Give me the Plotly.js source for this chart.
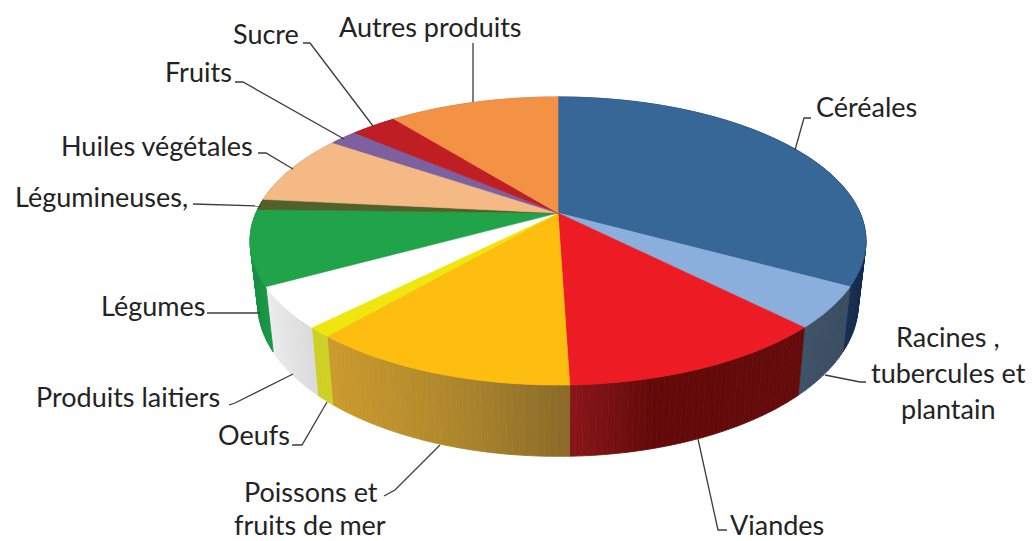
<!DOCTYPE html>
<html>
<head>
<meta charset="utf-8">
<script src="https://cdn.plot.ly/plotly-3.0.1.min.js"></script>
<style>html,body{margin:0;padding:0;background:#fff}#chart{width:1033px;height:541px}</style>
</head>
<body>
<div id="chart"></div>
<script>
// ---- data ----
const categories = ["Céréales","Racines , tubercules et plantain","Viandes","Poissons et fruits de mer","Oeufs","Produits laitiers","Légumes","Légumineuses,","Huiles végétales","Fruits","Sucre","Autres produits"];
const shares = [33.0,4.6,11.9,11.8,1.1,4.6,8.4,1.2,7.9,1.8,2.95,10.75];

// ---- styles ----
const topColors = ["#366797","#8AAFDC","#ED1C24","#FDBE10","#EFE60F","#FFFFFF","#21A34A","#4F622A","#F4B984","#7D60A0","#BE1E24","#F39244"];
const rimScales = [
  [[0,"#1B3A66"],[0.8,"#172F52"],[1,"#152B4E"]],
  [[0,"#3F5369"],[1,"#384B60"]],
  [[0,"#8A1719"],[0.35,"#640909"],[1,"#650A0A"]],
  [[0,"#CC9B2C"],[0.5,"#B0882C"],[1,"#8A6A2A"]],
  [[0,"#CDD024"],[1,"#CFD126"]],
  [[0,"#EDEDED"],[1,"#D9D9D9"]],
  [[0,"#169243"],[1,"#199545"]],
  [[0,"#3F4F22"],[1,"#3F4F22"]],
  [[0,"#C49468"],[1,"#C49468"]],
  [[0,"#644C80"],[1,"#644C80"]],
  [[0,"#98181D"],[1,"#98181D"]],
  [[0,"#C27536"],[1,"#C27536"]]
];
function shade(scale,f){
  const hex = c=>[1,3,5].map(k=>parseInt(c.substr(k,2),16));
  let i = 0;
  while(i<scale.length-2 && f>scale[i+1][0]) i++;
  const a = scale[i], b = scale[i+1], t = Math.min(1,Math.max(0,(f-a[0])/(b[0]-a[0])));
  const ca = hex(a[1]), cb = hex(b[1]);
  return "rgb("+ca.map((v,k)=>Math.round(v+(cb[k]-v)*t)).join(",")+")";
}

// ---- geometry of the tilted disc (perspective view) ----
const view = {cx:558, cy:213, radius:302.1, height:138.6, persp:0.1944,
              baseScale:0.975, baseY:274, baseStretch:1.06};
function topPoint(deg){
  const t = deg*Math.PI/180, u = Math.sin(t), v = -Math.cos(t), w = 1 - view.persp*v;
  return [view.cx + view.radius*u/w, view.cy + view.height*v/w];
}
function basePoint(deg){
  const p = topPoint(deg);
  return [view.cx + view.baseScale*(p[0]-view.cx), view.baseY + view.baseStretch*(p[1]-view.cy)];
}
function arc(fn,a0,a1){
  const n = Math.max(2,Math.ceil((a1-a0)/1.0)), out=[];
  for(let i=0;i<=n;i++) out.push(fn(a0+(a1-a0)*i/n));
  return out;
}

const total = shares.reduce((a,b)=>a+b,0);
let cum = 0;
const rimTraces = [], topTraces = [];
categories.forEach((name,i)=>{
  const a0 = cum/total*360; cum += shares[i]; const a1 = cum/total*360;
  const tArc = arc(topPoint,a0,a1), bArc = arc(basePoint,a0,a1);
  const lo = Math.min(...tArc.map(p=>p[0]),...bArc.map(p=>p[0]));
  const hi = Math.max(...tArc.map(p=>p[0]),...bArc.map(p=>p[0]));
  // the rim is drawn as narrow strips, so that it stays filled where it folds at the silhouette
  for(let s=0;s<tArc.length-1;s++){
    const strip = [tArc[s],tArc[s+1],bArc[s+1],bArc[s],tArc[s]];
    const col = shade(rimScales[i],((tArc[s][0]+bArc[s+1][0])/2-lo)/(hi-lo));
    rimTraces.push({type:"scatter",mode:"lines",x:strip.map(p=>p[0]),y:strip.map(p=>p[1]),
      fill:"toself",fillcolor:col,
      line:{width:0.8,color:col,simplify:false},hoverinfo:"skip",showlegend:false});
  }
  const face = [[view.cx,view.cy]].concat(tArc); face.push([view.cx,view.cy]);
  topTraces.push({type:"scatter",mode:"lines",name:name,x:face.map(p=>p[0]),y:face.map(p=>p[1]),
    fill:"toself",fillcolor:topColors[i],line:{width:0.6,color:topColors[i],simplify:false},
    text:name+": "+shares[i]+" %",hoverinfo:"text",showlegend:false});
});

// ---- label texts and leader lines (layout) ----
const labelFont = {family:"Lato, Carlito, Calibri, sans-serif",size:27,color:"#232323"};
const labelLines = [
  ["Céréales",866,106],
  ["Racines ,",948,336],["tubercules et",948,372],["plantain",948,408],
  ["Viandes",777,524],
  ["Poissons et",311,491],["fruits de mer",310,524],
  ["Oeufs",254,434],
  ["Produits laitiers",128,396],
  ["Légumes",153,305],
  ["Légumineuses,",101,196],
  ["Huiles végétales",157,145],
  ["Fruits",198,71],
  ["Sucre",266,33],
  ["Autres produits",430,26]
];
const leaders = [
  [[795,150],[804,118],[811,118]],
  [[825,375],[860,382],[866,382]],
  [[698,439],[718,530],[727,530]],
  [[440,445],[395,490],[384,496]],
  [[327,402],[302,445],[292,445]],
  [[293,374],[235,403],[229,405]],
  [[207,313],[260,313]],
  [[193,204],[261,206]],
  [[258,153],[266,153],[293,169]],
  [[235,82],[243,82],[344,139]],
  [[303,43],[310,43],[373,126]],
  [[473,43],[473,102]]
];
const shapes = leaders.map(pts=>({type:"path",xref:"x",yref:"y",
  path:pts.map((p,i)=>(i?"L":"M")+p[0]+" "+p[1]).join(" "),
  line:{color:"#3C3C3C",width:1.3}}));
const annotations = labelLines.map(l=>({text:l[0],x:l[1],y:l[2],xref:"x",yref:"y",
  xanchor:"center",yanchor:"middle",showarrow:false,font:labelFont}));

Plotly.newPlot("chart",rimTraces.concat(topTraces),{
  width:1033,height:541,margin:{l:0,r:0,t:0,b:0},
  paper_bgcolor:"#fff",plot_bgcolor:"#fff",showlegend:false,hovermode:"closest",
  xaxis:{range:[0,1033],visible:false,fixedrange:true},
  yaxis:{range:[541,0],visible:false,fixedrange:true},
  shapes:shapes,annotations:annotations
},{displayModeBar:false,staticPlot:false});
</script>
</body>
</html>
